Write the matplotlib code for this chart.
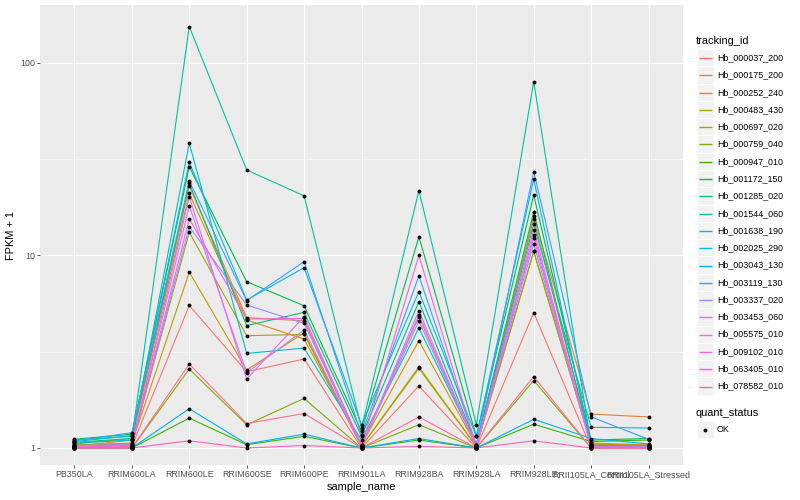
import matplotlib
matplotlib.use("Agg")
import matplotlib.pyplot as plt
from matplotlib.lines import Line2D
from matplotlib.patches import Rectangle
from matplotlib.ticker import FixedLocator, NullFormatter

plt.rcParams['font.family'] = ['Liberation Sans', 'DejaVu Sans']

samples = ["PB350LA", "RRIM600LA", "RRIM600LE", "RRIM600SE", "RRIM600PE",
           "RRIM901LA", "RRIM928BA", "RRIM928LA", "RRIM928LE",
           "RRII105LA_Control", "RRII105LA_Stressed"]

tracking_ids = ["Hb_000037_200", "Hb_000175_200", "Hb_000252_240", "Hb_000483_430",
                "Hb_000697_020", "Hb_000759_040", "Hb_000947_010", "Hb_001172_150",
                "Hb_001285_020", "Hb_001544_060", "Hb_001638_190", "Hb_002025_290",
                "Hb_003043_130", "Hb_003119_130", "Hb_003337_020", "Hb_003453_060",
                "Hb_005575_010", "Hb_009102_010", "Hb_063405_010", "Hb_078582_010"]

# FPKM + 1 per sample (same order as samples)
hb_000037_200 = [1.00, 1.02, 5.5, 2.49, 2.90, 1.00, 2.10, 1.00, 5.05, 1.00, 1.00]
hb_000175_200 = [1.02, 1.10, 23.0, 4.75, 4.58, 1.04, 4.81, 1.02, 16.0, 1.50, 1.45]
hb_000252_240 = [1.05, 1.12, 21.0, 4.62, 3.68, 1.04, 3.61, 1.03, 15.4, 1.06, 1.04]
hb_000483_430 = [1.04, 1.06, 8.18, 2.54, 3.97, 1.02, 2.64, 1.02, 10.5, 1.05, 1.03]
hb_000697_020 = [1.03, 1.05, 13.2, 3.83, 3.89, 1.02, 2.59, 1.02, 10.5, 1.04, 1.02]
hb_000759_040 = [1.00, 1.00, 2.57, 1.32, 1.81, 1.00, 1.32, 1.00, 2.24, 1.00, 1.00]
hb_000947_010 = [1.00, 1.00, 1.43, 1.04, 1.15, 1.00, 1.10, 1.00, 1.33, 1.08, 1.10]
hb_001172_150 = [1.11, 1.18, 28.9, 7.31, 5.48, 1.22, 12.5, 1.15, 20.6, 1.10, 1.12]
hb_001285_020 = [1.10, 1.15, 23.7, 4.32, 5.07, 1.15, 5.75, 1.04, 16.9, 1.02, 1.01]
hb_001544_060 = [1.07, 1.12, 154.5, 27.8, 20.4, 1.27, 21.7, 1.32, 80.0, 1.03, 1.02]
hb_001638_190 = [1.06, 1.10, 38.3, 3.10, 3.30, 1.10, 4.19, 1.04, 14.5, 1.28, 1.27]
hb_002025_290 = [1.08, 1.16, 30.5, 5.87, 8.64, 1.32, 6.48, 1.15, 24.9, 1.03, 1.02]
hb_003043_130 = [1.00, 1.00, 1.60, 1.05, 1.18, 1.00, 1.12, 1.00, 1.41, 1.12, 1.05]
hb_003119_130 = [1.09, 1.20, 24.4, 5.83, 9.29, 1.17, 7.83, 1.04, 27.3, 1.45, 1.11]
hb_003337_020 = [1.03, 1.04, 14.1, 5.53, 4.44, 1.03, 4.57, 1.02, 11.5, 1.02, 1.01]
hb_003453_060 = [1.02, 1.04, 18.1, 2.46, 4.10, 1.02, 4.91, 1.02, 12.3, 1.02, 1.01]
hb_005575_010 = [1.01, 1.03, 20.2, 2.28, 4.81, 1.02, 5.17, 1.01, 12.8, 1.01, 1.01]
hb_009102_010 = [1.01, 1.03, 15.5, 4.68, 4.71, 1.03, 10.0, 1.01, 13.6, 1.01, 1.00]
hb_063405_010 = [1.00, 1.00, 1.09, 1.00, 1.03, 1.00, 1.02, 1.00, 1.09, 1.00, 1.00]
hb_078582_010 = [1.00, 1.00, 2.73, 1.34, 1.51, 1.00, 1.45, 1.00, 2.35, 1.00, 1.00]

series = [hb_000037_200, hb_000175_200, hb_000252_240, hb_000483_430, hb_000697_020,
          hb_000759_040, hb_000947_010, hb_001172_150, hb_001285_020, hb_001544_060,
          hb_001638_190, hb_002025_290, hb_003043_130, hb_003119_130, hb_003337_020,
          hb_003453_060, hb_005575_010, hb_009102_010, hb_063405_010, hb_078582_010]

y_ticks = [1, 10, 100]
y_tick_labels = ["1", "10", "100"]

colors = ["#F8766D", "#EA8331", "#D89000", "#C09B00", "#A3A500", "#7CAE00", "#39B600",
          "#00BB4E", "#00BF7D", "#00C1A3", "#00BFC4", "#00BAE0", "#00B0F6", "#35A2FF",
          "#9590FF", "#C77CFF", "#E76BF3", "#FA62DB", "#FF62BC", "#FF6C91"]

W, H = 800, 500
fig = plt.figure(figsize=(8, 5), dpi=100)
fig.patch.set_facecolor("white")

# panel in pixel coords: x 40..683, y 5..465 (from top)
px_l, px_r, px_t, px_b = 40, 683, 5, 465
ax = fig.add_axes([px_l / W, 1 - px_b / H, (px_r - px_l) / W, (px_b - px_t) / H])
ax.set_facecolor("#EBEBEB")
for s in ax.spines.values():
    s.set_visible(False)

x = list(range(len(samples)))
for vals, c in zip(series, colors):
    ax.plot(x, vals, color=c, lw=0.8, zorder=2, solid_joinstyle="round")
for vals in series:
    ax.plot(x, vals, linestyle="none", marker="o", ms=2.8, color="black",
            markeredgewidth=0, zorder=3)

ax.set_yscale("log")
ax.set_ylim(0.816, 200)
ax.set_xlim(-0.6, len(samples) - 1 + 0.6)

ax.yaxis.set_major_locator(FixedLocator(y_ticks))
ax.set_yticklabels(y_tick_labels)
ax.yaxis.set_minor_locator(FixedLocator([10 ** 0.5, 10 ** 1.5]))
ax.yaxis.set_minor_formatter(NullFormatter())
ax.set_xticks(x)
ax.set_xticklabels(samples)

ax.grid(True, which="major", color="white", lw=0.8, zorder=0)
ax.grid(True, which="minor", axis="y", color="white", lw=0.4, zorder=0)
ax.set_axisbelow(True)

ax.tick_params(axis="both", which="major", length=2.2, width=0.6, color="#333333",
               labelsize=6.4, labelcolor="#4D4D4D", pad=1.5)
ax.tick_params(axis="y", which="minor", length=0)

ax.set_xlabel("sample_name", fontsize=7.9, labelpad=2)
ax.set_ylabel("FPKM + 1", fontsize=7.9, labelpad=3)

# legend (drawn manually, ggplot-style)
def fx(px):
    return px / W

def fy(py):
    return 1 - py / H

fig.text(fx(696), fy(40.5), "tracking_id", fontsize=7.9, va="center", ha="left")
key_w, key_h = 17, 17.3
y0, dy = 57.7, 17.28
for i, (tid, c) in enumerate(zip(tracking_ids, colors)):
    yc = y0 + i * dy
    yl = int(yc) + 0.5
    fig.add_artist(Rectangle((fx(696.5), fy(yc + key_h / 2)), key_w / W, key_h / H,
                             transform=fig.transFigure, facecolor="#F2F2F2",
                             edgecolor="white", lw=0.6))
    fig.add_artist(Line2D([fx(698.5), fx(711.5)], [fy(yl), fy(yl)],
                          transform=fig.transFigure, color=c, lw=1.0,
                          solid_capstyle="butt"))
    fig.text(fx(717), fy(yc), tid, fontsize=6.4, va="center", ha="left")

fig.text(fx(696), fy(412.7), "quant_status", fontsize=7.9, va="center", ha="left")
yc = 429.5
fig.add_artist(Rectangle((fx(696.5), fy(yc + key_h / 2)), key_w / W, key_h / H,
                         transform=fig.transFigure, facecolor="#F2F2F2",
                         edgecolor="white", lw=0.6))
fig.add_artist(Line2D([fx(705)], [fy(yc)], transform=fig.transFigure, marker="o",
                      ms=2.8, color="black", markeredgewidth=0, linestyle="none"))
fig.text(fx(717), fy(yc), "OK", fontsize=6.4, va="center", ha="left")

fig.savefig("out.png", dpi=100)
